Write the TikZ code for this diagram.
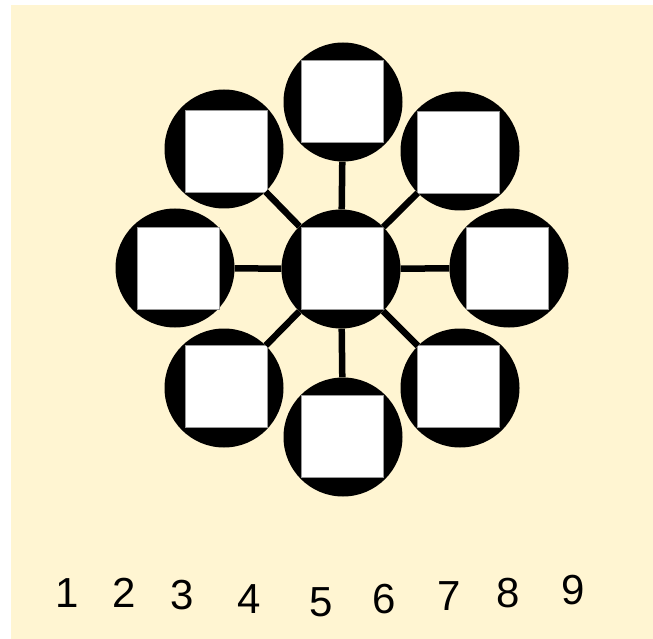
\documentclass[tikz,border=0pt]{standalone}
\usepackage{fontspec}
\setmainfont{Liberation Sans}
\definecolor{cream}{HTML}{FFF5D2}
\begin{document}
\begin{tikzpicture}[x=1pt,y=-1pt,
  hub/.style={circle,fill=black,draw=none,minimum size=119pt,inner sep=0pt},
  pane/.style={rectangle,fill=white,draw=black!40,line width=0.6pt,minimum size=82pt,inner sep=0pt},
  link/.style={line width=6.5pt,draw=black},
  digit/.style={font=\fontsize{42}{44}\selectfont,anchor=base,inner sep=0pt}]
\fill[white] (0,0) rectangle (653,639);
\fill[cream] (11,5) rectangle (653,639);
\useasboundingbox (0,0) rectangle (653,639);
% circles
\node[hub] (c)  at (341,269) {};
\node[hub] (t)  at (343,102) {};
\node[hub] (b)  at (343,437) {};
\node[hub] (l)  at (175,268) {};
\node[hub] (r)  at (509,268) {};
\node[hub] (ul) at (224,149) {};
\node[hub] (ur) at (460,151) {};
\node[hub] (ll) at (224,388) {};
\node[hub] (lr) at (460,388) {};
% squares
\node[pane] (sc)  at (342,268) {};
\node[pane] (st)  at (342,101) {};
\node[pane] (sb)  at (342,436) {};
\node[pane] (sl)  at (178,268) {};
\node[pane] (sr)  at (507,268) {};
\node[pane] (sul) at (226,151) {};
\node[pane] (sur) at (458,152) {};
\node[pane] (sll) at (226,386) {};
\node[pane] (slr) at (458,386) {};
% connectors
\foreach \n in {t,b,l,r,ul,ur,ll,lr} \draw[link] (c) -- (\n);
% digits
\node[digit] (d1) at (67,607) {1};
\node[digit] (d2) at (124,607) {2};
\node[digit] (d3) at (182,609) {3};
\node[digit] (d4) at (249,613) {4};
\node[digit] (d5) at (321,616) {5};
\node[digit] (d6) at (384,613) {6};
\node[digit] (d7) at (449,610) {7};
\node[digit] (d8) at (508,607) {8};
\node[digit] (d9) at (573,604) {9};
\end{tikzpicture}
\end{document}
